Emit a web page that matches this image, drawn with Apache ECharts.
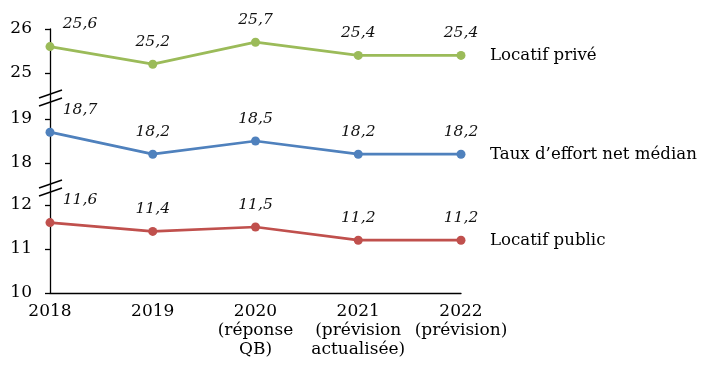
<!DOCTYPE html>
<html><head><meta charset="utf-8">
<script src="https://cdn.jsdelivr.net/npm/echarts@6/dist/echarts.min.js"></script>
<style>html,body{margin:0;padding:0;background:#fff}#c{width:710px;height:378px}</style>
</head><body><div id="c"></div>
<script>
var categories = ['2018', '2019', '2020\n(réponse\nQB)', '2021\n(prévision\nactualisée)', '2022\n(prévision)'];
var seriesNames = ['Locatif privé', 'Taux d\u2019effort net médian', 'Locatif public'];
var locatifPrive = [25.6, 25.2, 25.7, 25.4, 25.4];
var tauxMedian = [18.7, 18.2, 18.5, 18.2, 18.2];
var locatifPublic = [11.6, 11.4, 11.5, 11.2, 11.2];
var ticksTop = [25, 26];
var ticksMid = [18, 19];
var ticksBot = [10, 11, 12];

var FONT = 'DejaVu Serif';
var FS = 15.5;
var AFS = 17;
var PX = 44; // px per unit
var L = 50, R = 710 - 461;
var g1t = 29, g1b = 98, g2b = 188, g3b = 293;

function fmt(v) { return v.toFixed(1).replace('.', ','); }
function mk(vals) {
  return vals.map(function (v, i) {
    return i === 0 ? { value: v, label: { offset: [30, 0] } } : v;
  });
}
function yAx(idx, min, max, ticks) {
  return {
    type: 'value', gridIndex: idx, min: min, max: max,
    axisLine: { show: true, lineStyle: { color: '#000', width: 1.3 } },
    axisTick: { show: true, inside: false, length: 5, customValues: ticks, lineStyle: { color: '#000', width: 1.3 } },
    axisLabel: { customValues: ticks, color: '#000', fontFamily: FONT, fontSize: AFS, margin: 18 },
    splitLine: { show: false }
  };
}
function xAx(idx, show) {
  return {
    type: 'category', gridIndex: idx, data: categories, boundaryGap: false,
    axisLine: { show: show, lineStyle: { color: '#000', width: 1.3 } },
    axisTick: { show: false },
    axisLabel: { show: show, color: '#000', fontFamily: FONT, fontSize: AFS, margin: 9, lineHeight: 19, interval: 0 },
    splitLine: { show: false }
  };
}
function ser(name, data, idx, color) {
  return {
    type: 'line', name: name, xAxisIndex: idx, yAxisIndex: idx, data: mk(data),
    symbol: 'circle', symbolSize: 9, showSymbol: true,
    lineStyle: { color: color, width: 2.75 }, itemStyle: { color: color },
    label: { show: true, position: 'top', distance: 10, formatter: function (p) { return fmt(p.value); },
      color: '#111', fontFamily: FONT, fontStyle: 'italic', fontSize: FS },
    endLabel: { show: true, formatter: name, color: '#000', fontFamily: FONT, fontSize: 16.6, distance: 29 },
    emphasis: { disabled: true }
  };
}
var max1 = 26, min1 = 26 - (g1b - g1t) / PX;
var max2 = 19 + (119 - g1b) / PX, min2 = max2 - (g2b - g1b) / PX;
var min3 = 10, max3 = 10 + (g3b - g2b) / PX;

var chart = echarts.init(document.getElementById('c'), null, { renderer: 'canvas' });
var breakY = [g1b, g2b];
var graphics = [];
breakY.forEach(function (y) {
  [-4, 4].forEach(function (d) {
    graphics.push({ type: 'line', shape: { x1: L - 11, y1: y + d + 4, x2: L + 12, y2: y + d - 4 },
      style: { stroke: '#000', lineWidth: 1.4 }, z: 100 });
  });
});
chart.setOption({
  animation: false,
  backgroundColor: '#fff',
  grid: [
    { left: L, right: R, top: g1t, height: g1b - g1t },
    { left: L, right: R, top: g1b, height: g2b - g1b },
    { left: L, right: R, top: g2b, height: g3b - g2b }
  ],
  xAxis: [xAx(0, false), xAx(1, false), xAx(2, true)],
  yAxis: [yAx(0, min1, max1, ticksTop), yAx(1, min2, max2, ticksMid), yAx(2, min3, max3, ticksBot)],
  series: [
    ser(seriesNames[0], locatifPrive, 0, '#9BBB59'),
    ser(seriesNames[1], tauxMedian, 1, '#4F81BD'),
    ser(seriesNames[2], locatifPublic, 2, '#C0504D')
  ],
  graphic: graphics
});
</script></body></html>
